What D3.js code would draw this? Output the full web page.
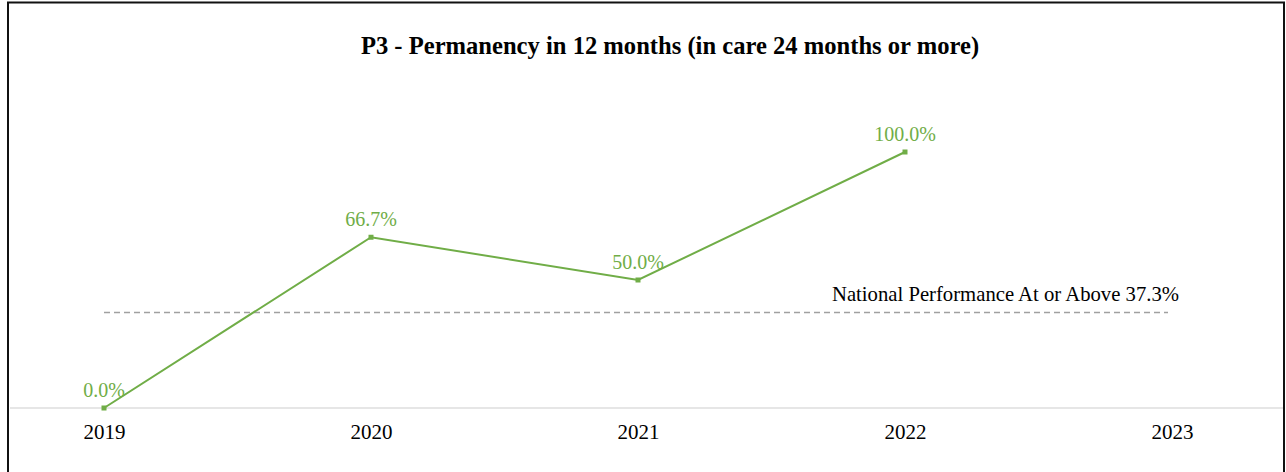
<!DOCTYPE html>
<html><head><meta charset="utf-8">
<script src="https://cdn.jsdelivr.net/npm/d3@7"></script>
<style>body{margin:0;background:#fff}svg{display:block}</style>
</head><body>
<script>
const years = ["2019","2020","2021","2022","2023"];
const values = [0.0, 66.7, 50.0, 100.0];
const valueLabels = ["0.0%","66.7%","50.0%","100.0%"];
const nationalValue = 37.3;
const nationalLabel = "National Performance At or Above 37.3%";
const title = "P3 - Permanency in 12 months (in care 24 months or more)";

const W = 1286, H = 472;
const svg = d3.select("body").append("svg").attr("width", W).attr("height", H);
const font = "'Liberation Serif','Times New Roman',serif";
const green = "#70ad47";

// frame
svg.append("rect").attr("x",8).attr("y",2.5).attr("width",1276).attr("height",H+10)
  .attr("fill","none").attr("stroke","#111").attr("stroke-width",2);

const x = d3.scalePoint().domain(years).range([104, 1172]);
const y = d3.scaleLinear().domain([0,100]).range([408, 152]);

svg.append("text").attr("x",670).attr("y",54).attr("text-anchor","middle")
  .attr("font-family",font).attr("font-weight","bold").attr("font-size",24.6).attr("fill","#000")
  .text(title);

// x axis baseline
svg.append("line").attr("x1",10).attr("x2",1283).attr("y1",y(0)).attr("y2",y(0))
  .attr("stroke","#e6e6e6").attr("stroke-width",2);

const xAxis = svg.append("g").attr("transform",`translate(0,${y(0)})`)
  .call(d3.axisBottom(x).tickSize(0));
xAxis.select(".domain").remove();
xAxis.selectAll("text").attr("y",31).attr("dy",0)
  .attr("font-family",font).attr("font-size",21).attr("fill","#000");

// national line
svg.append("line").attr("x1",x("2019")).attr("x2",1168).attr("y1",y(nationalValue)).attr("y2",y(nationalValue))
  .attr("stroke","#a0a0a0").attr("stroke-width",1.3).attr("stroke-dasharray","6,4");
svg.append("text").attr("x",1179).attr("y",y(nationalValue)-12).attr("text-anchor","end")
  .attr("font-family",font).attr("font-size",20.7).attr("fill","#000").text(nationalLabel);

const data = values.map((v,i)=>({year:years[i], v, label:valueLabels[i]}));
svg.append("path").datum(data)
  .attr("d", d3.line().x(d=>x(d.year)).y(d=>y(d.v)))
  .attr("fill","none").attr("stroke",green).attr("stroke-width",2);
svg.selectAll(".m").data(data).enter().append("rect")
  .attr("x",d=>x(d.year)-2.5).attr("y",d=>y(d.v)-2.5).attr("width",5).attr("height",5).attr("fill",green);
svg.selectAll(".lbl").data(data).enter().append("text")
  .attr("x",d=>x(d.year)).attr("y",d=>y(d.v)-11).attr("text-anchor","middle")
  .attr("font-family",font).attr("font-size",20).attr("fill",green).text(d=>d.label);
</script>
</body></html>
